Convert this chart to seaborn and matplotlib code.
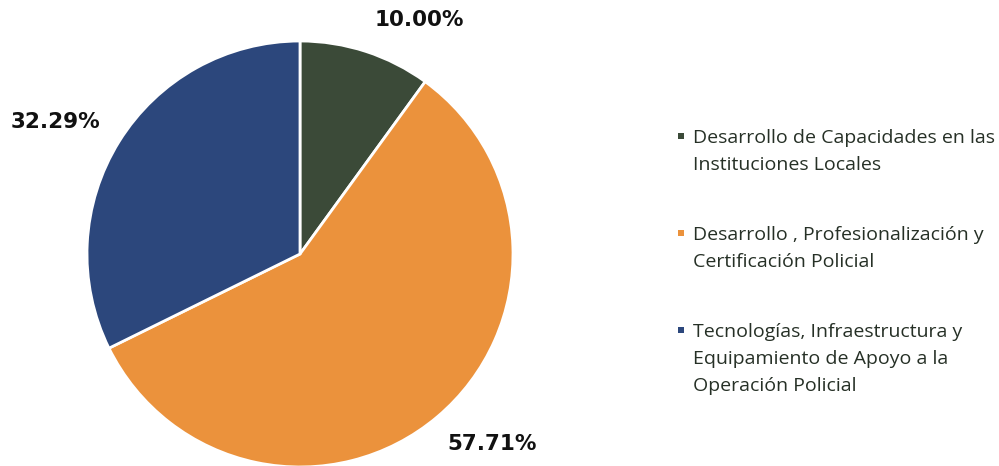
import matplotlib
matplotlib.use("Agg")
import matplotlib.pyplot as plt
import seaborn as sns
from matplotlib.patches import Rectangle

sns.set_theme(style="white")
plt.rcParams['font.family'] = ['DejaVu Sans']

# Data
categories = [
    "Desarrollo de Capacidades en las\nInstituciones Locales",
    "Desarrollo , Profesionalización y\nCertificación Policial",
    "Tecnologías, Infraestructura y\nEquipamiento de Apoyo a la\nOperación Policial",
]
shares = [10.00, 57.71, 32.29]
pct_labels = ["10.00%", "57.71%", "32.29%"]
colors = ["#3b4a38", "#eb923c", "#2c477c"]

W, H = 999, 466
fig = plt.figure(figsize=(W / 100, H / 100), dpi=100)

# pie axes: centre (300, 254) px from top-left, radius ~213 px
cx, cy, r = 300, 254, 213
pad = 1.02
ax = fig.add_axes([(cx - r * pad) / W, (H - cy - r * pad) / H, 2 * r * pad / W, 2 * r * pad / H])
wedges, _ = ax.pie(shares, colors=colors, startangle=90, counterclock=False,
                   wedgeprops=dict(edgecolor="white", linewidth=2))
ax.set_xlim(-pad, pad)
ax.set_ylim(-pad, pad)
ax.set_aspect("equal")

# percentage labels (positions in radius units)
label_pos = [(0.56, 1.10), (0.90, -0.89), (-1.15, 0.62)]
for txt, (lx, ly) in zip(pct_labels, label_pos):
    ax.text(lx, ly, txt, ha="center", va="center", fontsize=15.5,
            fontweight="bold", color="#111111", clip_on=False)

# legend drawn by hand
leg_font = ['Open Sans', 'DejaVu Sans']
text_x, mark_x = 693, 681
entry_y = [136, 233, 330]
line_gap = 27
for lab, col, ey in zip(categories, colors, entry_y):
    fig.patches.append(Rectangle(((mark_x - 3) / W, (H - ey - 3) / H), 6 / W, 6 / H,
                                 transform=fig.transFigure, facecolor=col,
                                 edgecolor="none"))
    for i, line in enumerate(lab.split("\n")):
        y = ey + i * line_gap + 7
        fig.text(text_x / W, (H - y) / H, line, ha="left", va="baseline",
                 fontsize=14, color="#263026", family=leg_font)

fig.savefig("out.png", dpi=100)
